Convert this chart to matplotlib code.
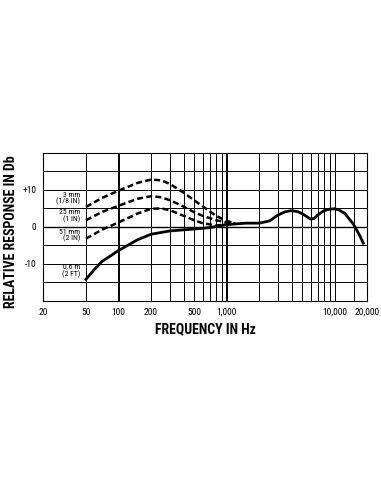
import numpy as np
import matplotlib
matplotlib.use('Agg')
import matplotlib.pyplot as plt
from matplotlib import font_manager

# pick a narrow font if one is installed
names = {f.name for f in font_manager.fontManager.ttflist}
narrow = 'DejaVu Sans'
for cand in ['Liberation Sans Narrow', 'DejaVu Sans Condensed', 'Roboto Condensed', 'Open Sans Condensed']:
    if cand in names:
        narrow = cand
        break

# frequency response data (Hz, dB)
freq_solid = [50, 60, 70, 85, 100, 150, 200, 300, 500, 700, 1000, 1500, 2000, 2500, 3000,
              3500, 4000, 4600, 5200, 6000, 6500, 7000, 8000, 9000, 10000, 11000, 12500, 15000, 17000, 18500]
resp_solid = [-14.2, -11.5, -9.4, -7.8, -6.4, -3.5, -2.0, -1.1, -0.6, -0.2, 0.6, 1.0, 1.0, 1.6, 3.2,
              4.1, 4.4, 4.1, 3.3, 2.1, 2.3, 3.2, 4.4, 4.8, 4.9, 4.6, 3.6, 0.7, -2.2, -4.4]

freq_dash = [50, 70, 100, 150, 200, 250, 300, 400, 500, 600, 800, 1000, 1200]
resp_3mm = [5.4, 7.8, 9.8, 11.9, 12.8, 12.6, 11.6, 9.3, 7.2, 5.6, 3.0, 1.6, 1.0]
resp_25mm = [1.8, 4.0, 5.7, 7.6, 8.3, 8.0, 7.2, 5.5, 4.0, 3.0, 1.8, 1.2, 1.0]
resp_51mm = [-3.2, -0.8, 1.2, 3.6, 4.9, 5.0, 4.5, 3.0, 1.8, 1.0, 0.4, 0.6, 0.9]

curve_labels = ['3 mm\n(1/8 IN)', '25 mm\n(1 IN)', '51 mm\n(2 IN)', '0.6 m\n(2 FT)']
label_y = [7.7, 2.9, -2.3, -12.0]

grid_freqs = [20, 50, 100, 200, 300, 400, 500, 600, 700, 800, 900, 1000,
              2000, 3000, 4000, 5000, 6000, 7000, 8000, 9000, 10000, 15000, 20000]
thick_freqs = [100, 1000]
xtick_vals = [20, 50, 100, 200, 500, 1000, 10000, 20000]
xtick_text = ['20', '50', '100', '200', '500', '1,000', '10,000', '20,000']
ytick_vals = [10, 0, -10]
ytick_text = ['+10', '0', '-10']

fig = plt.figure(figsize=(3.81, 4.92), dpi=100)
ax = fig.add_axes([0.1129, 0.3888, 0.8504, 0.3002])
ax.set_xscale('log')
ax.set_xlim(20, 20000)
ax.set_ylim(-20, 20)

# grid
for f in grid_freqs:
    lw = 1.4 if f in thick_freqs else 0.7
    ax.axvline(f, color='black', lw=lw, zorder=1)
for yv in range(-15, 20, 5):
    ax.axhline(yv, color='black', lw=1.0 if yv == 0 else 0.7, zorder=1)

for sp in ax.spines.values():
    sp.set_linewidth(0.8)

# curves
ax.plot(freq_solid, resp_solid, color='black', lw=2.0, zorder=3)
for r in [resp_3mm, resp_25mm, resp_51mm]:
    ax.plot(freq_dash, r, color='black', lw=1.8, ls=(0, (2.4, 1.3)), zorder=3)

for txt, yv in zip(curve_labels, label_y):
    ax.text(44, yv, txt, ha='right', va='center', ma='right', fontsize=5.6,
            family=narrow, linespacing=0.95, zorder=4)

ax.minorticks_off()
ax.set_xticks(xtick_vals)
ax.set_xticklabels(xtick_text, family=narrow, fontsize=6.8)
ax.set_yticks(ytick_vals)
ax.set_yticklabels(ytick_text, family=narrow, fontsize=6.8)
ax.tick_params(length=0, pad=5)

ax.set_xlabel('FREQUENCY IN Hz', fontsize=10, fontweight='bold', family=narrow, labelpad=4)
fig.text(11 / 381, 0.530, 'RELATIVE RESPONSE IN Db', rotation=90, ha='center', va='center',
         fontsize=10, fontweight='bold', family=narrow)

fig.savefig('out.png', dpi=100)
